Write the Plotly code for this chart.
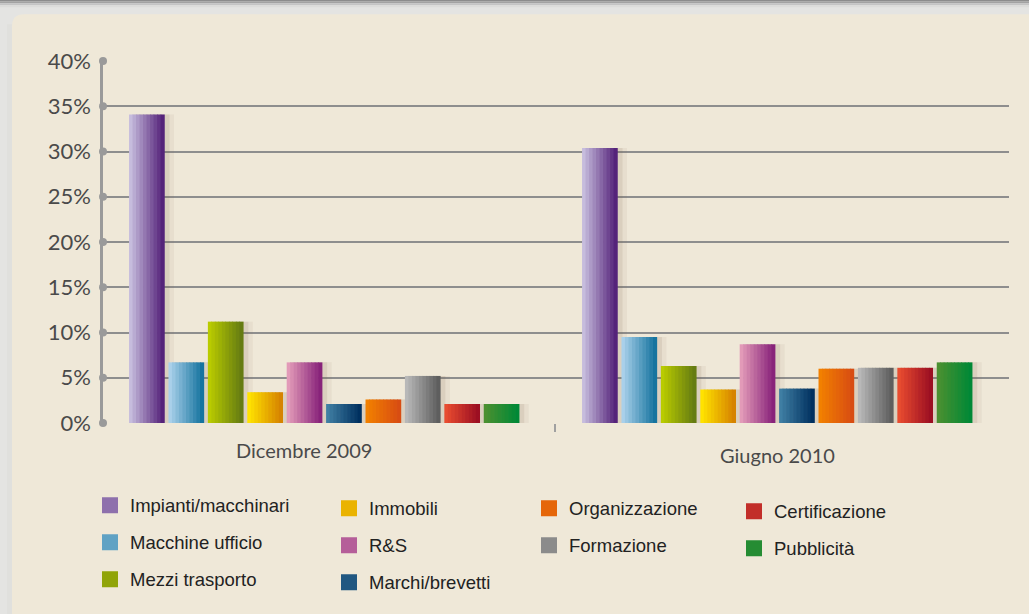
import plotly.graph_objects as go

# ---------------- data ----------------
categories = ["Dicembre 2009", "Giugno 2010"]
series_names = ["Impianti/macchinari", "Macchine ufficio", "Mezzi trasporto", "Immobili", "R&S",
                "Marchi/brevetti", "Organizzazione", "Formazione", "Certificazione", "Pubblicità"]
impianti = [34.1, 30.4]
macchine_ufficio = [6.7, 9.5]
mezzi_trasporto = [11.2, 6.3]
immobili = [3.4, 3.7]
rs = [6.7, 8.7]
marchi = [2.1, 3.8]
organizzazione = [2.6, 6.0]
formazione = [5.2, 6.1]
certificazione = [2.1, 6.1]
pubblicita = [2.1, 6.7]
series_values = [impianti, macchine_ufficio, mezzi_trasporto, immobili, rs,
                 marchi, organizzazione, formazione, certificazione, pubblicita]
y_ticks = [0, 5, 10, 15, 20, 25, 30, 35, 40]
y_ticktext = [f"{v}%" for v in y_ticks]

# ---------------- style ----------------
grad = [
    ("#c6bcdd", "#55237a"),
    ("#a9d0ea", "#16749f"),
    ("#b9cb00", "#667c12"),
    ("#ffe200", "#d68400"),
    ("#e29ab8", "#88237a"),
    ("#3f7ea3", "#00305f"),
    ("#f28000", "#d84d12"),
    ("#b8b8b8", "#5e5e5e"),
    ("#e84c30", "#9c0f22"),
    ("#4a9030", "#008836"),
]
legend_of = ["legend", "legend", "legend", "legend2", "legend2", "legend2",
             "legend3", "legend3", "legend4", "legend4"]

W, H = 1029, 614
ML, MR, MT, MB = 103, 20, 61, 189
PW, PH = W - ML - MR, H - MT - MB
XR = [-0.488, 1.512]


def px2x(px):
    return (px - ML) / PW


def px2y(py):
    return (H - MB - py) / PH


def hex2rgb(h):
    h = h.lstrip("#")
    return [int(h[i:i + 2], 16) for i in (0, 2, 4)]


def mix(c1, c2, t):
    a, b = hex2rgb(c1), hex2rgb(c2)
    return "rgb(%d,%d,%d)" % tuple(round(a[k] + (b[k] - a[k]) * t) for k in range(3))


fig = go.Figure()

x_pos = list(range(len(categories)))
pitch = 0.087
bar_w = 0.0773
start = -0.4305
N = 10
for i, (name, vals) in enumerate(zip(series_names, series_values)):
    off = start + i * pitch
    # soft shadow (two layers)
    fig.add_trace(go.Bar(x=x_pos, y=vals, offset=off + 0.012, width=bar_w + 0.010,
                         marker=dict(color="rgba(140,120,90,0.08)", line=dict(width=0)),
                         showlegend=False, hoverinfo="skip", legendgroup=name,
                         legend=legend_of[i]))
    fig.add_trace(go.Bar(x=x_pos, y=vals, offset=off + 0.008, width=bar_w + 0.004,
                         marker=dict(color="rgba(120,100,70,0.12)", line=dict(width=0)),
                         showlegend=False, hoverinfo="skip", legendgroup=name,
                         legend=legend_of[i]))
    for j in range(N):
        t = j / (N - 1)
        fig.add_trace(go.Bar(
            x=x_pos, y=vals, offset=off + j * bar_w / N, width=bar_w / N + 0.0015,
            marker=dict(color=mix(grad[i][0], grad[i][1], t), line=dict(width=0)),
            name=name, legendgroup=name, legend=legend_of[i],
            showlegend=False, hovertemplate="%{y}%<extra>" + name + "</extra>"))
    # legend proxy (square swatch)
    fig.add_trace(go.Scatter(x=[None], y=[None], mode="markers", name=name,
                             legendgroup=name, legend=legend_of[i], showlegend=True,
                             marker=dict(symbol="square", size=16,
                                         color=mix(grad[i][0], grad[i][1], 0.5),
                                         line=dict(width=0))))

# axis dots
fig.add_trace(go.Scatter(x=[XR[0]] * len(y_ticks), y=y_ticks, mode="markers",
                         marker=dict(color="#9a9a9a", size=8), cliponaxis=False,
                         showlegend=False, hoverinfo="skip"))

# background shapes
shapes = [
    dict(type="rect", xref="paper", yref="paper", x0=px2x(-5), x1=px2x(W + 5),
         y0=px2y(1), y1=px2y(-5), fillcolor="#8c8c8c", line=dict(width=0), layer="below"),
    dict(type="rect", xref="paper", yref="paper", x0=px2x(-5), x1=px2x(W + 5),
         y0=px2y(3), y1=px2y(1), fillcolor="#a2a2a2", line=dict(width=0), layer="below"),
    dict(type="rect", xref="paper", yref="paper", x0=px2x(-5), x1=px2x(W + 5),
         y0=px2y(5), y1=px2y(3), fillcolor="#c4c4c4", line=dict(width=0), layer="below"),
    dict(type="rect", xref="paper", yref="paper", x0=px2x(-5), x1=px2x(W + 5),
         y0=px2y(7), y1=px2y(5), fillcolor="#dcdcda", line=dict(width=0), layer="below"),
    dict(type="rect", xref="paper", yref="paper", x0=px2x(7), x1=px2x(12),
         y0=px2y(H + 5), y1=px2y(24), fillcolor="#e0e0dd", line=dict(width=0), layer="below"),
]
r = 12
x0, y0, x1, y1 = 12, 14, W + 10, H + 10
path = (f"M {px2x(x0)},{px2y(y1)} L {px2x(x0)},{px2y(y0 + r)} "
        f"Q {px2x(x0)},{px2y(y0)} {px2x(x0 + r)},{px2y(y0)} "
        f"L {px2x(x1)},{px2y(y0)} L {px2x(x1)},{px2y(y1)} Z")
shapes.append(dict(type="path", xref="paper", yref="paper", path=path,
                   fillcolor="#efe8d8", line=dict(width=0), layer="below"))

annotations = []
cat_label_dx = [-0.044, 0.0]
cat_label_y = [452, 457]
for k, c in enumerate(categories):
    annotations.append(dict(x=x_pos[k] + cat_label_dx[k], xref="x", y=px2y(cat_label_y[k]),
                            yref="paper", text=c, showarrow=False, xanchor="center",
                            yanchor="middle",
                            font=dict(family="Lato", size=20, color="#4a4a4a")))

leg_font = dict(family="Liberation Sans", size=18.5, color="#222222")
leg_common = dict(orientation="v", bgcolor="rgba(0,0,0,0)", font=leg_font, itemwidth=30,
                  tracegroupgap=10, yanchor="top", xanchor="left", itemclick="toggle")

fig.update_layout(
    width=W, height=H,
    margin=dict(l=ML, r=MR, t=MT, b=MB, pad=0),
    paper_bgcolor="#e4e4e2",
    plot_bgcolor="rgba(0,0,0,0)",
    barmode="overlay",
    shapes=shapes,
    annotations=annotations,
    xaxis=dict(range=XR, tickvals=[0.51], ticktext=[""], ticks="outside", ticklen=8,
               tickwidth=2, tickcolor="#a0a0a0", showgrid=False, zeroline=False,
               showline=False, fixedrange=True),
    yaxis=dict(range=[0, 40], tickvals=y_ticks, ticktext=y_ticktext, showgrid=True,
               gridcolor="#8e8e8e", gridwidth=1.5, showline=True, linecolor="#9a9a9a",
               linewidth=2.5, zeroline=False, ticks="", ticklabelstandoff=5,
               tickfont=dict(family="Lato", size=22, color="#4a4a4a"), fixedrange=True),
    legend=dict(x=px2x(90), y=px2y(489), **leg_common),
    legend2=dict(x=px2x(329), y=px2y(492), **leg_common),
    legend3=dict(x=px2x(529), y=px2y(492), **leg_common),
    legend4=dict(x=px2x(734), y=px2y(495), **leg_common),
    showlegend=True,
)

fig.write_html("out.html", config={"displayModeBar": False},
               post_script="document.body.style.margin='0';document.body.style.overflow='hidden';")
